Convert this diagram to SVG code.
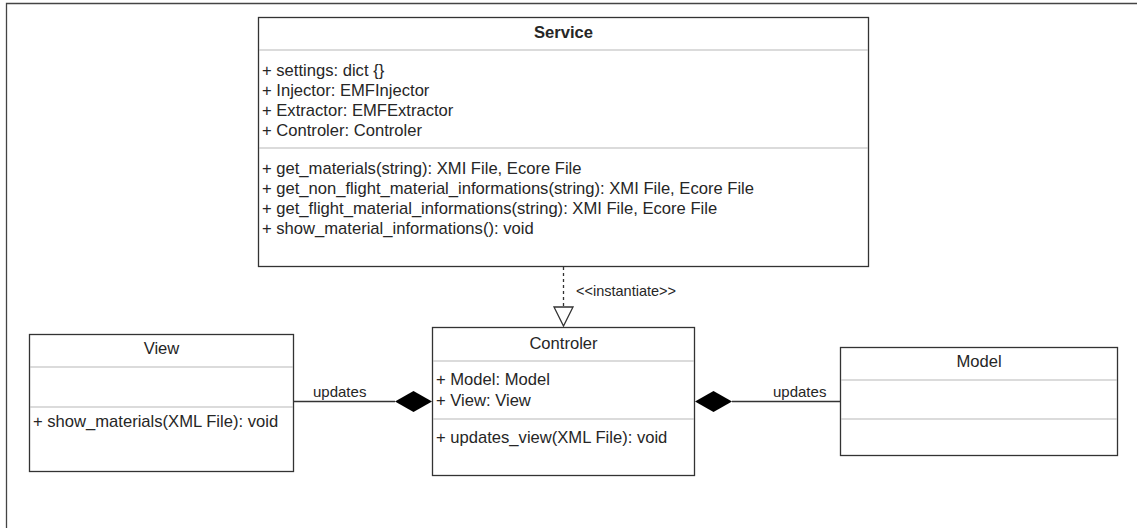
<svg xmlns="http://www.w3.org/2000/svg" width="1137" height="528" viewBox="0 0 1137 528">
<defs>
<style>
text{font-family:"Liberation Sans",Arial,sans-serif;font-size:16.6px;fill:#262626}
.t{text-anchor:middle}
.b{font-weight:bold}
.lb{font-size:15px}
.box{fill:#fff;stroke:#333;stroke-width:1.3}
.div{stroke:#b8b8b8;stroke-width:1.2}
.ln{stroke:#333;stroke-width:1.3;fill:none}
</style>
</defs>
<rect width="1137" height="528" fill="#fff"/>
<path d="M6.5 528 V3.5 H1137" fill="none" stroke="#444" stroke-width="1.3"/>
<g id="service">
<rect class="box" x="258.5" y="17.5" width="610" height="249"/>
<line class="div" x1="259" y1="50" x2="868" y2="50"/>
<line class="div" x1="259" y1="148" x2="868" y2="148"/>
<text class="t b" x="563.5" y="38">Service</text>
<text x="262" y="76">+ settings: dict {}</text>
<text x="262" y="96">+ Injector: EMFInjector</text>
<text x="262" y="116">+ Extractor: EMFExtractor</text>
<text x="262" y="136">+ Controler: Controler</text>
<text x="262" y="174">+ get_materials(string): XMI File, Ecore File</text>
<text x="262" y="194">+ get_non_flight_material_informations(string): XMI File, Ecore File</text>
<text x="262" y="214">+ get_flight_material_informations(string): XMI File, Ecore File</text>
<text x="262" y="234">+ show_material_informations(): void</text>
</g>
<g id="view">
<rect class="box" x="29.5" y="334.5" width="264" height="137"/>
<line class="div" x1="30" y1="367" x2="293" y2="367"/>
<line class="div" x1="30" y1="407" x2="293" y2="407"/>
<text class="t" x="161.5" y="354">View</text>
<text x="33" y="427">+ show_materials(XML File): void</text>
</g>
<g id="controler">
<rect class="box" x="432.5" y="327.5" width="262" height="148"/>
<line class="div" x1="433" y1="361" x2="694" y2="361"/>
<line class="div" x1="433" y1="419" x2="694" y2="419"/>
<text class="t" x="563.5" y="349">Controler</text>
<text x="436" y="385">+ Model: Model</text>
<text x="436" y="406">+ View: View</text>
<text x="436" y="443">+ updates_view(XML File): void</text>
</g>
<g id="model">
<rect class="box" x="840.5" y="347.5" width="277" height="108"/>
<line class="div" x1="841" y1="380" x2="1117" y2="380"/>
<line class="div" x1="841" y1="419" x2="1117" y2="419"/>
<text class="t" x="979" y="367">Model</text>
</g>
<g id="connectors">
<line class="ln" x1="563.5" y1="267" x2="563.5" y2="307" stroke-dasharray="3,3"/>
<polygon points="554,307 573,307 563.5,326" fill="#fff" stroke="#333" stroke-width="1.3"/>
<text class="lb" x="576" y="296" style="font-size:14.5px">&lt;&lt;instantiate&gt;&gt;</text>
<line class="ln" x1="294" y1="401.5" x2="395" y2="401.5"/>
<polygon points="395,401.5 413.5,391 432,401.5 413.5,412" fill="#000"/>
<text class="lb" x="313" y="397">updates</text>
<line class="ln" x1="732" y1="401.5" x2="840" y2="401.5"/>
<polygon points="695,401.5 713.5,391 732,401.5 713.5,412" fill="#000"/>
<text class="lb" x="773" y="397">updates</text>
</g>
</svg>
